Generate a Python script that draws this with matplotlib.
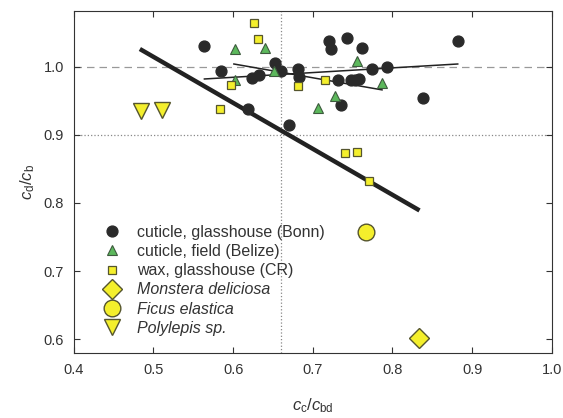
import matplotlib
matplotlib.use("Agg")
import matplotlib.pyplot as plt
import numpy as np

plt.rcParams['font.family'] = ['Liberation Sans', 'DejaVu Sans']
plt.rcParams['mathtext.fontset'] = 'custom'
plt.rcParams['mathtext.it'] = 'Liberation Sans:italic'
plt.rcParams['mathtext.rm'] = 'Liberation Sans'

# ---- data ----
bonn_x = [0.563, 0.585, 0.624, 0.633, 0.619, 0.652, 0.660, 0.681, 0.683, 0.670,
          0.720, 0.723, 0.743, 0.762, 0.732, 0.735, 0.748, 0.753, 0.758, 0.774,
          0.793, 0.838, 0.882]
bonn_y = [1.030, 0.994, 0.983, 0.988, 0.938, 1.005, 0.994, 0.996, 0.985, 0.914,
          1.038, 1.026, 1.042, 1.027, 0.981, 0.944, 0.981, 0.981, 0.982, 0.997,
          1.000, 0.954, 1.038]

belize_x = [0.602, 0.640, 0.603, 0.651, 0.756, 0.787, 0.728, 0.707]
belize_y = [1.026, 1.028, 0.981, 0.993, 1.008, 0.976, 0.957, 0.940]

wax_x = [0.626, 0.631, 0.598, 0.584, 0.682, 0.715, 0.740, 0.756, 0.770]
wax_y = [1.064, 1.040, 0.973, 0.938, 0.971, 0.980, 0.873, 0.875, 0.832]

monstera_x, monstera_y = [0.833], [0.602]
ficus_x, ficus_y = [0.767], [0.757]
polylepis_x, polylepis_y = [0.484, 0.511], [0.935, 0.937]

# regression lines (end points)
fit_thick_x, fit_thick_y = [0.483, 0.834], [1.026, 0.789]
fit_bonn_x, fit_bonn_y = [0.564, 0.882], [0.982, 1.004]
fit_belize_x, fit_belize_y = [0.601, 0.787], [1.004, 0.966]

YELLOW = '#f4ef2c'
YEDGE = '#55552e'

fig, ax = plt.subplots(figsize=(5.63, 4.18), dpi=100)
fig.subplots_adjust(left=0.131, right=0.980, top=0.974, bottom=0.156)

# reference lines
ax.axhline(1.0, color='#999999', ls=(0, (6, 4)), lw=0.9, zorder=1)
ax.axhline(0.9, color='#888888', ls=':', lw=0.9, zorder=1)
ax.axvline(0.66, color='#888888', ls=':', lw=0.9, zorder=1)

ax.plot(fit_thick_x, fit_thick_y, color='#222222', lw=3.2, solid_capstyle='butt', zorder=2)
ax.plot(fit_bonn_x, fit_bonn_y, color='#222222', lw=1.1, zorder=2)
ax.plot(fit_belize_x, fit_belize_y, color='#222222', lw=1.1, zorder=2)

ax.plot(bonn_x, bonn_y, 'o', ms=7.8, color='#2a2a2a', mec='#2a2a2a', ls='none',
        label='cuticle, glasshouse (Bonn)', zorder=3)
ax.plot(belize_x, belize_y, '^', ms=7, color='#5cb85c', mec='#3d5a3d', mew=0.8, ls='none',
        label='cuticle, field (Belize)', zorder=3)
ax.plot(wax_x, wax_y, 's', ms=6, color=YELLOW, mec=YEDGE, mew=0.9, ls='none',
        label='wax, glasshouse (CR)', zorder=4)
ax.plot(monstera_x, monstera_y, 'D', ms=10, color=YELLOW, mec=YEDGE, mew=1.0, ls='none',
        label='Monstera deliciosa', zorder=4)
ax.plot(ficus_x, ficus_y, 'o', ms=12, color=YELLOW, mec=YEDGE, mew=1.0, ls='none',
        label='Ficus elastica', zorder=4)
ax.plot(polylepis_x, polylepis_y, 'v', ms=11, color=YELLOW, mec=YEDGE, mew=1.0, ls='none',
        label='Polylepis sp.', zorder=4)

ax.set_xlim(0.4, 1.0)
ax.set_ylim(0.58, 1.082)
ax.set_xticks(np.arange(0.4, 1.01, 0.1))
ax.set_yticks(np.arange(0.6, 1.01, 0.1))
ax.xaxis.set_major_formatter(matplotlib.ticker.FormatStrFormatter('%.1f'))
ax.yaxis.set_major_formatter(matplotlib.ticker.FormatStrFormatter('%.1f'))
ax.tick_params(direction='in', top=True, right=True, length=4, labelsize=10.5,
               colors='#333333', pad=7)
for s in ax.spines.values():
    s.set_color('#333333')

ax.set_xlabel(r'$c_\mathrm{c}/c_\mathrm{bd}$', fontsize=12, color='#333333', labelpad=14)
ax.set_ylabel(r'$c_\mathrm{d}/c_\mathrm{b}$', fontsize=12, color='#333333', labelpad=5)

leg = ax.legend(loc='lower left', bbox_to_anchor=(0.054, 0.05), frameon=False,
                fontsize=11.5, handletextpad=0.85, labelspacing=0.26,
                handlelength=1.5, borderaxespad=0, borderpad=0)
for t in leg.get_texts()[3:]:
    t.set_style('italic')
for t in leg.get_texts():
    t.set_color('#333333')

fig.savefig('out.png', dpi=100)
